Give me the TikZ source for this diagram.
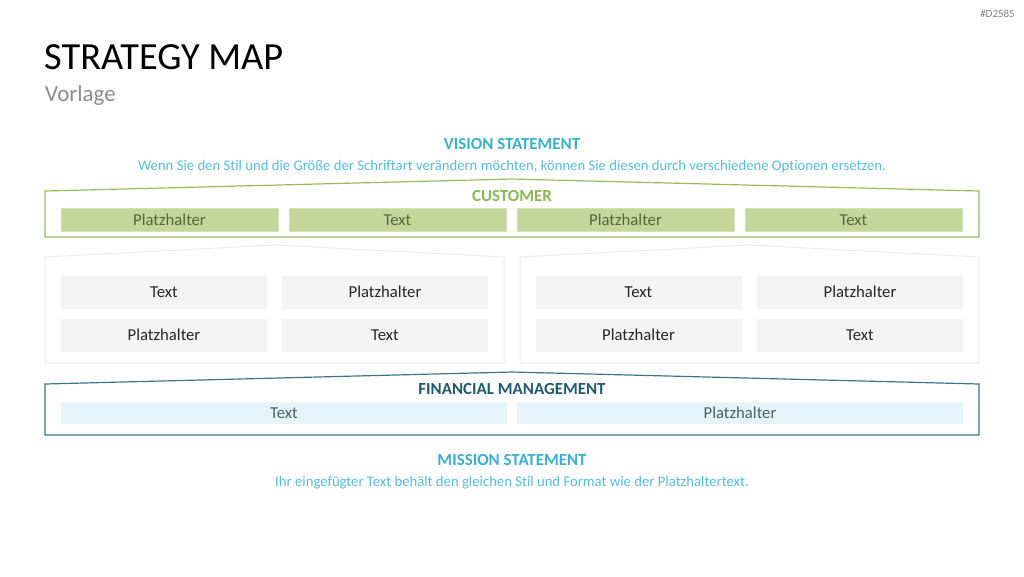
\documentclass[tikz,border=0pt]{standalone}
\usepackage{fontspec}
\setmainfont{Carlito}[Ligatures=NoCommon]
\definecolor{cyanlbl}{HTML}{3AAFD0}
\definecolor{cyansub}{HTML}{55BCDB}
\definecolor{grnline}{HTML}{92BE5A}
\definecolor{grnlbl}{HTML}{8DB553}
\definecolor{grnfill}{HTML}{C4D79B}
\definecolor{grnedge}{HTML}{D3E2B4}
\definecolor{grntxt}{HTML}{56663A}
\definecolor{grayline}{HTML}{EBEBEB}
\definecolor{grayfill}{HTML}{F4F4F4}
\definecolor{tealline}{HTML}{3A7684}
\definecolor{teallbl}{HTML}{215968}
\definecolor{bluefill}{HTML}{E6F3F9}
\definecolor{bluetxt}{HTML}{44626C}
\tikzset{
  fs/.style={font=\fontsize{#1}{#1}\selectfont},
  boxbase/.style={inner sep=0pt, fs=16.7, text height=12pt, text depth=2pt},
  grnbox/.style={boxbase, draw=grnedge, line width=0.8pt, fill=grnfill, text=grntxt, minimum width=217pt, minimum height=23pt},
  graybox/.style={boxbase, draw=none, fill=grayfill, text=black!85, minimum width=206pt, minimum height=33pt},
  bluebox/.style={boxbase, draw=none, fill=bluefill, text=bluetxt, minimum width=446pt, minimum height=22pt},
  hdr/.style={font=\fontsize{16.9}{16.9}\selectfont\bfseries, inner sep=0pt, text height=12.7pt, text depth=2pt},
  sub/.style={fs=14.7, text=cyansub, inner sep=0pt, text height=11pt, text depth=1pt},
}
\begin{document}
\begin{tikzpicture}[x=1pt,y=-1pt]
\useasboundingbox (0,0) rectangle (1024,576);
% titles
\node[anchor=west, fs=38.4, inner sep=0pt] (title) at (44,57) {STRATEGY MAP};
\node[anchor=west, fs=23, text=black!45, inner sep=0pt] (subtitle) at (45,95) {Vorlage};
\node[anchor=east, fs=11, text=black!50, inner sep=0pt] (code) at (1015,14) {\#D2585};
% vision
\node[hdr, text=cyanlbl] (vision) at (512,144) {VISION STATEMENT};
\node[sub] (visiontxt) at (512,165) {Wenn Sie den Stil und die Größe der Schriftart verändern möchten, können Sie diesen durch verschiedene Optionen ersetzen.};
% customer frame
\draw[grnline, line width=1.2pt] (45,191) -- (512,179) -- (979,191) -- (979,237) -- (45,237) -- cycle;
\node[hdr, text=grnlbl] (customer) at (512,196) {CUSTOMER};
\node[grnbox] (c1) at (169.5,220) {Platzhalter};
\node[grnbox] (c2) at (397.5,220) {Text};
\node[grnbox] (c3) at (625.5,220) {Platzhalter};
\node[grnbox] (c4) at (853.5,220) {Text};
% middle frames
\draw[grayline, line width=1pt] (45,257) -- (274.5,245) -- (504,257) -- (504,363) -- (45,363) -- cycle;
\draw[grayline, line width=1pt] (520,257) -- (749.5,245) -- (979,257) -- (979,363) -- (520,363) -- cycle;
\node[graybox] (m1) at (164,292.5) {Text};
\node[graybox] (m2) at (385,292.5) {Platzhalter};
\node[graybox] (m3) at (164,335.5) {Platzhalter};
\node[graybox] (m4) at (385,335.5) {Text};
\node[graybox] (m5) at (638.5,292.5) {Text};
\node[graybox] (m6) at (860,292.5) {Platzhalter};
\node[graybox] (m7) at (638.5,335.5) {Platzhalter};
\node[graybox] (m8) at (860,335.5) {Text};
% financial frame
\draw[tealline, line width=1.2pt] (45,384) -- (512,372) -- (979,384) -- (979,435) -- (45,435) -- cycle;
\node[hdr, text=teallbl] (fin) at (512,389) {FINANCIAL MANAGEMENT};
\node[bluebox] (f1) at (284,413) {Text};
\node[bluebox] (f2) at (740,413) {Platzhalter};
% mission
\node[hdr, text=cyanlbl] (mission) at (512,460) {MISSION STATEMENT};
\node[sub] (missiontxt) at (512,481) {Ihr eingefügter Text behält den gleichen Stil und Format wie der Platzhaltertext.};
\end{tikzpicture}
\end{document}
